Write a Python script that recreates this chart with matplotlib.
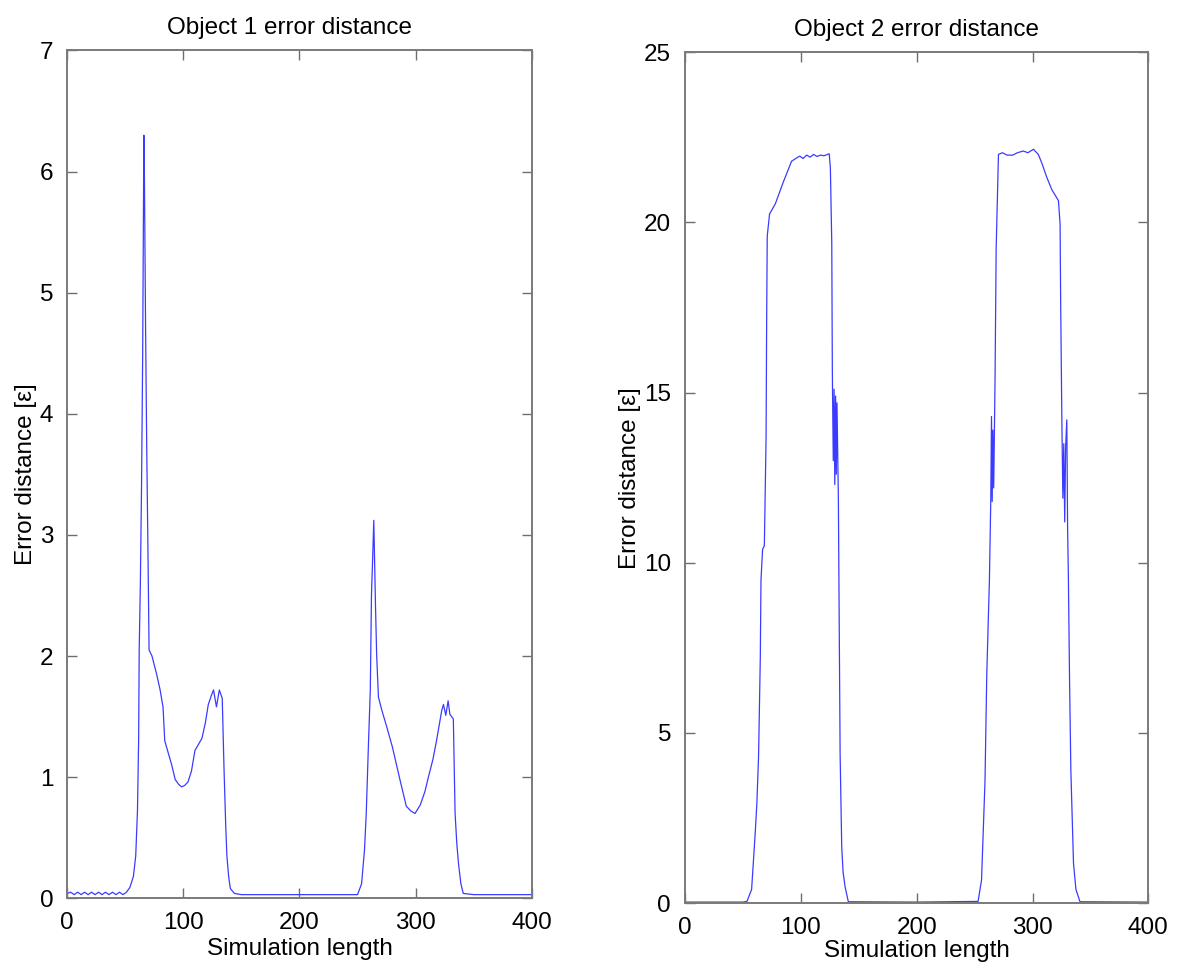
import numpy as np
import matplotlib
matplotlib.use("Agg")
import matplotlib.pyplot as plt

plt.rcParams["font.family"] = ["Liberation Sans", "DejaVu Sans"]

# Object 1 error distance
obj1_x = [0, 3, 6, 9, 12, 15, 18, 21, 24, 27, 30, 33, 36, 39, 42, 45, 48, 51,
          54, 57, 59, 60.5, 61.5, 62, 63, 64, 65, 66, 66.5, 67.5, 68.5, 69.5, 70.5,
          73, 77, 80, 82.5, 84, 87, 90, 93, 96, 98.5, 101, 104, 107, 110, 113,
          116, 119, 121.5, 124, 126, 128.5, 131, 133.5, 135, 136.5, 137.5, 139, 140.5, 144,
          150, 200, 250, 253.5, 256, 257.5, 259.5, 261, 262, 263, 264, 265.5, 266.5,
          268, 271, 275, 280, 286.5, 292, 296, 299.5, 304, 308, 311, 315, 318,
          322.5, 324, 326, 328, 329.5, 332.5, 334, 335.5, 337, 339, 341, 350, 400]
obj1_y = [0.04, 0.05, 0.03, 0.05, 0.03, 0.05, 0.03, 0.05, 0.03, 0.05, 0.03, 0.05, 0.03, 0.05,
          0.03, 0.05, 0.03, 0.05,
          0.09, 0.18, 0.35, 0.72, 1.3, 2.05, 2.6, 3.4, 4.5, 6.3, 5.95, 4.7, 3.7, 2.9, 2.05,
          2.0, 1.85, 1.72, 1.58, 1.3, 1.2, 1.1, 0.98, 0.94, 0.92, 0.93, 0.96, 1.05, 1.22, 1.27,
          1.32, 1.45, 1.6, 1.67, 1.72, 1.58, 1.72, 1.65, 1.08, 0.6, 0.35, 0.18, 0.08, 0.04,
          0.03, 0.03, 0.03, 0.12, 0.4, 0.7, 1.3, 1.72, 2.5, 2.8, 3.12, 2.4, 2.0,
          1.66, 1.55, 1.42, 1.25, 0.98, 0.76, 0.72, 0.7, 0.77, 0.88, 1.0, 1.15, 1.3,
          1.55, 1.6, 1.51, 1.63, 1.52, 1.48, 0.7, 0.45, 0.28, 0.12, 0.04, 0.03, 0.03]

# Object 2 error distance
obj2_x = [0, 50, 53.5, 57.5, 60.5, 62, 63.5, 65, 65.6, 67, 68.5, 70, 70.5, 71, 73, 78, 85,
          92, 96.5, 99, 102, 105, 108, 111, 114, 117, 120, 124.5, 125.5, 126.7, 127.2, 128,
          128.7, 129.3, 130, 130.6, 131.2, 132.4, 133.9, 135.3, 136.5, 138.2, 141, 200,
          253, 256, 259, 260.5, 262.8, 264, 264.6, 265.2, 265.8, 266.5, 267.7, 268.6, 270.6,
          274, 278, 283, 287, 292, 296, 300.8, 305, 308, 312.3, 316.6, 322.4, 323.8, 324.3,
          325.3, 326.2, 327, 327.8, 328.6, 329.6, 330.3, 331, 332, 333.1, 335.4, 337.5, 341, 400]
obj2_y = [0.03, 0.03, 0.05, 0.4, 2.0, 2.9, 4.3, 7.2, 9.5, 10.4, 10.5, 13.7, 17.2, 19.6,
          20.25, 20.55, 21.2, 21.8, 21.9, 21.95, 21.88, 21.98, 21.92, 22.0, 21.94, 21.98, 21.96,
          22.02, 21.6, 19.4, 15.6, 13.0, 15.1, 12.3, 14.9, 12.6, 14.7, 11.9, 4.4, 1.65, 0.9,
          0.48, 0.04, 0.03,
          0.05, 0.68, 3.6, 6.7, 9.5, 11.9, 14.3, 11.8, 13.9, 12.2, 15.5, 19.2, 22.0,
          22.05, 21.98, 21.98, 22.05, 22.1, 22.05, 22.15, 22.0, 21.75, 21.33, 20.97, 20.64,
          19.95, 17.7, 14.3, 11.9, 13.5, 11.2, 13.4, 14.2, 11.0, 9.5, 6.5, 3.9, 1.16, 0.4,
          0.04, 0.03]

y_ticks_1 = [0, 1, 2, 3, 4, 5, 6, 7]
y_ticks_2 = [0, 5, 10, 15, 20, 25]
x_ticks = [0, 100, 200, 300, 400]

FS = 17.5


def style_axes(ax):
    for spine in ax.spines.values():
        spine.set_color("#7a7a7a")
        spine.set_linewidth(1.4)
    ax.tick_params(direction="in", length=7, width=1.0, color="#6e6e6e",
                   top=True, right=True, labelsize=FS, pad=10)


fig = plt.figure(figsize=(11.79, 9.69), dpi=100)

ax1 = fig.add_axes([0.057, 0.073, 0.394, 0.875])
ax1.plot(obj1_x, obj1_y, color="#3b3bff", linewidth=0.9)
ax1.set_xlim(0, 400)
ax1.set_ylim(0, 7)
ax1.set_xticks(x_ticks)
ax1.set_yticks(y_ticks_1)
ax1.set_title("Object 1 error distance", fontsize=FS, pad=12, x=0.478)
ax1.set_xlabel("Simulation length", fontsize=FS, labelpad=3)
ax1.set_ylabel("Error distance [\u03b5]", fontsize=FS, labelpad=2)
style_axes(ax1)

ax2 = fig.add_axes([0.581, 0.068, 0.393, 0.878])
ax2.plot(obj2_x, obj2_y, color="#3b3bff", linewidth=0.9)
ax2.set_xlim(0, 400)
ax2.set_ylim(0, 25)
ax2.set_xticks(x_ticks)
ax2.set_yticks(y_ticks_2)
ax2.set_title("Object 2 error distance", fontsize=FS, pad=12)
ax2.set_xlabel("Simulation length", fontsize=FS, labelpad=1)
ax2.set_ylabel("Error distance [\u03b5]", fontsize=FS, labelpad=2)
style_axes(ax2)

fig.savefig("out.png", dpi=100)
